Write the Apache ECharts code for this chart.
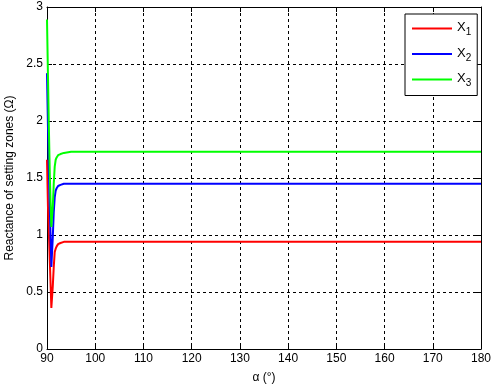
<!DOCTYPE html>
<html><head><meta charset="utf-8">
<script src="https://cdn.jsdelivr.net/npm/echarts@6/dist/echarts.min.js"></script>
<style>html,body{margin:0;padding:0;background:#fff}#c{width:492px;height:385px}</style>
</head><body><div id="c"></div>
<script>
var alpha = [90, 90.2, 90.4, 90.6, 90.8, 90.9, 91.0, 91.2, 91.4, 91.6, 91.8, 92.0, 92.3, 92.8, 93.5, 95, 100, 120, 140, 160, 180];
var X1 = [1.66, 1.25, 1.0, 0.75, 0.5, 0.36, 0.36, 0.55, 0.72, 0.85, 0.88, 0.9, 0.92, 0.93, 0.94, 0.94, 0.94, 0.94, 0.94, 0.94, 0.94];
var X2 = [2.42, 1.95, 1.55, 1.2, 0.9, 0.72, 0.72, 0.98, 1.2, 1.33, 1.39, 1.41, 1.43, 1.44, 1.45, 1.45, 1.45, 1.45, 1.45, 1.45, 1.45];
var X3 = [2.89, 2.4, 1.92, 1.5, 1.2, 1.07, 1.07, 1.25, 1.45, 1.6, 1.66, 1.68, 1.7, 1.71, 1.72, 1.73, 1.73, 1.73, 1.73, 1.73, 1.73];
var seriesNames = ['X1', 'X2', 'X3'];
var colors = ['#ff0000', '#0000ff', '#00ff00'];
var xTicks = [90, 100, 110, 120, 130, 140, 150, 160, 170, 180];
var yTicks = [0, 0.5, 1, 1.5, 2, 2.5, 3];

function pairs(ys) { return alpha.map(function (a, i) { return [a, ys[i]]; }); }
var font = 'Liberation Sans, Arial, sans-serif';
var chart = echarts.init(document.getElementById('c'), null, {renderer: 'canvas'});
var dashed = {show: true, lineStyle: {color: '#000', type: [3, 3], width: 1}};
var axisLine = {show: true, onZero: false, lineStyle: {color: '#000', width: 1}};
var tick = {show: true, inside: true, length: 5, lineStyle: {color: '#000'}};
chart.setOption({
  animation: false,
  backgroundColor: '#fff',
  grid: {left: 47, right: 11, top: 7, bottom: 36, containLabel: false, outerBoundsMode: 'none'},
  xAxis: [{
    type: 'value', min: 90, max: 180, interval: 10,
    name: 'α (°)', nameLocation: 'middle', nameGap: 23,
    nameTextStyle: {color: '#000', fontSize: 12, fontFamily: font},
    axisLine: axisLine, axisTick: tick, splitLine: dashed,
    axisLabel: {color: '#000', fontSize: 12, fontFamily: font, margin: 4}
  }, {
    type: 'value', min: 90, max: 180, interval: 10, position: 'top',
    axisLine: axisLine, axisTick: tick, splitLine: {show: false}, axisLabel: {show: false}
  }],
  yAxis: [{
    type: 'value', min: 0, max: 3, interval: 0.5,
    name: 'Reactance of setting zones (Ω)', nameLocation: 'middle', nameGap: 31,
    nameTextStyle: {color: '#000', fontSize: 12, fontFamily: font},
    axisLine: axisLine, axisTick: tick, splitLine: dashed,
    axisLabel: {color: '#000', fontSize: 12, fontFamily: font, margin: 4}
  }, {
    type: 'value', min: 0, max: 3, interval: 0.5, position: 'right',
    axisLine: axisLine, axisTick: tick, splitLine: {show: false}, axisLabel: {show: false}
  }],
  legend: {
    orient: 'vertical', left: 405, top: 14, width: 72,
    backgroundColor: '#fff', borderColor: '#000', borderWidth: 1,
    padding: [7, 6, 7, 7], itemGap: 9, itemWidth: 40, itemHeight: 2,
    icon: 'rect',
    formatter: function (n) { return '{a|' + n.charAt(0) + '}{b|' + n.slice(1) + '}'; },
    textStyle: {
      color: '#000', fontFamily: font,
      rich: {
        a: {fontSize: 13, lineHeight: 18, fontFamily: font, color: '#000', padding: [0, 0, 2, 0]},
        b: {fontSize: 10, lineHeight: 18, fontFamily: font, color: '#000', verticalAlign: 'bottom', padding: [6, 0, 0, 0]}
      }
    },
    data: seriesNames
  },
  series: [X1, X2, X3].map(function (d, i) {
    return {
      name: seriesNames[i], type: 'line', data: pairs(d), showSymbol: false, symbol: 'none',
      lineStyle: {color: colors[i], width: 2}, itemStyle: {color: colors[i]},
      emphasis: {disabled: true}
    };
  })
});
</script></body></html>
